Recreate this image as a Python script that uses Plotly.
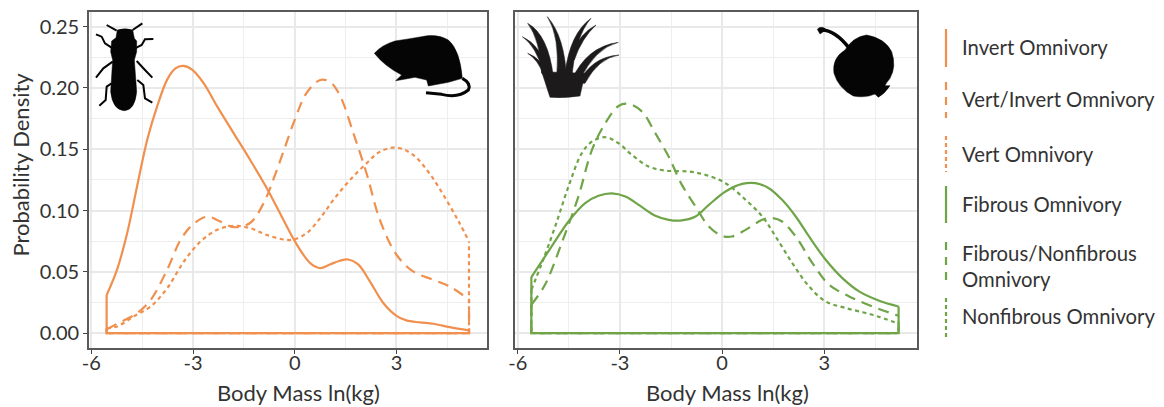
import re
import plotly.graph_objects as go

invert_x = [-5.55,-5.24,-4.94,-4.65,-4.35,-4.06,-3.76,-3.52,-3.29,-3.03,-2.69,-2.29,-1.80,-1.31,-0.82,-0.33,0,0.25,0.5,0.75,1.04,1.33,1.58,1.87,2.22,2.61,3,3.29,3.69,4.08,4.57,5.14]
invert_y = [.031,.052,.082,.120,.158,.185,.207,.216,.218,.215,.204,.185,.163,.141,.118,.092,.075,.064,.056,.053,.056,.059,.060,.056,.042,.0245,.014,.0103,.0087,.0076,.0049,.0022]
vertinv_x = [-5.55,-5.24,-4.65,-4.25,-3.76,-3.37,-3.03,-2.59,-2.2,-1.8,-1.31,-.92,-.53,0,.35,.75,1.04,1.33,1.73,2.12,2.51,3,3.49,4.08,4.57,5.14]
vertinv_y = [.003,.0076,.0163,.027,.052,.076,.088,.095,.091,.0864,.090,.106,.133,.174,.196,.2065,.205,.194,.163,.130,.0924,.0639,.0503,.0435,.038,.0272]
vert_x = [-5.55,-5.24,-4.75,-4.25,-3.76,-3.27,-2.78,-2.29,-1.8,-1.31,-.82,-.24,0,.35,.75,1.14,1.63,2.12,2.51,3,3.49,3.98,4.47,4.86,5.14]
vert_y = [.004,.0054,.0136,.0217,.0367,.0584,.0747,.0842,.0875,.0856,.080,.076,.0766,.0815,.0938,.1087,.125,.1386,.148,.1514,.1454,.130,.1087,.0897,.0747]
fibrous_x = [-5.6,-5.1,-4.51,-4.02,-3.63,-3.24,-2.84,-2.45,-1.96,-1.57,-1.23,-.78,-.39,.1,.59,.98,1.37,1.76,2.16,2.55,3.04,3.53,4.02,4.61,5.18]
fibrous_y = [.0457,.0666,.091,.106,.112,.114,.1114,.1046,.0957,.0924,.0918,.0951,.1046,.1155,.1217,.1223,.1182,.1087,.0951,.0788,.0598,.0448,.034,.0264,.0217]
fibnon_x = [-5.6,-5.2,-4.71,-4.22,-3.82,-3.43,-3.04,-2.75,-2.35,-1.96,-1.57,-1.18,-.78,-.39,0,.29,.69,1.18,1.47,1.76,2.16,2.65,3.14,3.73,4.41,5.18]
fibnon_y = [.0231,.0394,.0734,.1114,.1495,.1712,.1853,.187,.1807,.163,.144,.1209,.1033,.087,.0793,.0788,.0842,.0924,.0938,.091,.0788,.0571,.0394,.0299,.0217,.0141]
nonfib_x = [-5.6,-5.29,-4.9,-4.51,-4.12,-3.82,-3.43,-3.04,-2.65,-2.16,-1.67,-.98,-.49,.1,.69,1.18,1.57,2.06,2.55,3.04,3.63,4.41,5.18]
nonfib_y = [.0353,.0571,.087,.1196,.1467,.1563,.1598,.1549,.1454,.1359,.1326,.1318,.1291,.1223,.1087,.0951,.0788,.0571,.038,.0258,.0204,.0149,.0076]

x_ticks = [-6, -3, 0, 3]
x_tick_text = ["-6", "-3", "0", "3"]
y_ticks = [0, 0.05, 0.10, 0.15, 0.20, 0.25]
y_tick_text = ["0.00", "0.05", "0.10", "0.15", "0.20", "0.25"]
legend_labels = ["Invert Omnivory", "Vert/Invert Omnivory", "Vert Omnivory", "Fibrous Omnivory",
                 "Fibrous/Nonfibrous<br>Omnivory", "Nonfibrous Omnivory"]

W, H = 1164, 407
ORANGE, GREEN = "#F0904F", "#6FA548"
SOLID, DASH, DOT = "solid", "11px,7px", "4px,3.5px"
FONT = "Lato"
TXT = "#333333"

fig = go.Figure()
series = [
    (invert_x, invert_y, ORANGE, SOLID, "x", "y", legend_labels[0]),
    (vertinv_x, vertinv_y, ORANGE, DASH, "x", "y", legend_labels[1]),
    (vert_x, vert_y, ORANGE, DOT, "x", "y", legend_labels[2]),
    (fibrous_x, fibrous_y, GREEN, SOLID, "x2", "y2", legend_labels[3]),
    (fibnon_x, fibnon_y, GREEN, DASH, "x2", "y2", legend_labels[4]),
    (nonfib_x, nonfib_y, GREEN, DOT, "x2", "y2", legend_labels[5]),
]
for xs, ys, col, dash, xa, ya, name in series:
    fig.add_trace(go.Scatter(x=xs, y=ys, mode="lines", xaxis=xa, yaxis=ya, name=name, showlegend=False,
                             line=dict(color=col, width=2.2, dash=dash, shape="spline", smoothing=1.0)))
    fig.add_trace(go.Scatter(x=[xs[0], xs[0], xs[-1], xs[-1]], y=[ys[0], 0, 0, ys[-1]], mode="lines",
                             xaxis=xa, yaxis=ya, showlegend=False, hoverinfo="skip",
                             line=dict(color=col, width=2.2, dash=dash if dash != SOLID else None)))

def axis_common():
    return dict(automargin=False, showline=True, linecolor="#5a5a5a", linewidth=1.6, mirror=True, showgrid=True,
                gridcolor="#E9E9E9", gridwidth=2, zeroline=False, ticks="outside", ticklen=4,
                tickcolor="#444444", tickwidth=1.3, tickfont=dict(family=FONT, size=20, color=TXT),
                minor=dict(showgrid=True, gridcolor="#EEEEEE", gridwidth=1.3))

xa1 = axis_common(); xa2 = axis_common()
ya1 = axis_common(); ya2 = axis_common()
for xa, dom, rng in ((xa1, (89, 487), [-6.07, 5.67]), (xa2, (515, 917), [-6.08, 5.72])):
    xa.update(domain=[dom[0] / W, dom[1] / W], range=rng, tickvals=x_ticks, ticktext=x_tick_text,
              ticklabelstandoff=-8)
    xa["minor"].update(tickvals=[-4.5, -1.5, 1.5, 4.5], ticks="")
for ya in (ya1, ya2):
    ya.update(domain=[(H - 348) / H, (H - 12) / H], range=[-0.0122, 0.262], tickvals=y_ticks)
    ya["minor"].update(tickvals=[.025, .075, .125, .175, .225], ticks="")
ya1.update(ticktext=y_tick_text)
ya2.update(ticktext=[""] * len(y_ticks), ticks="", anchor="x2")
xa2.update(anchor="y2")

def sil(d, ox, oy):
    out, is_x = [], True
    for t in re.findall(r"[A-Za-z]|-?[\d.]+", d):
        if t.isalpha():
            out.append(t)
        elif is_x:
            out.append(f"{(float(t) / 3 + ox) / W:.5f}")
            is_x = False
        else:
            out.append(f"{1 - (float(t) / 3 + oy) / H:.5f}")
            is_x = True
    return " ".join(out)

shapes = []
def filled(d, ox, oy, col="#050505"):
    shapes.append(dict(type="path", xref="paper", yref="paper", path=sil(d, ox, oy), fillcolor=col,
                       line=dict(color=col, width=0.5), layer="above"))
def stroke(d, ox, oy, w=2):
    shapes.append(dict(type="path", xref="paper", yref="paper", path=sil(d, ox, oy),
                       line=dict(color="#050505", width=w), layer="above"))

# beetle
filled("M82,45 Q105,38 128,45 L133,70 L140,78 L140,110 L133,135 L140,230 Q135,285 103,287 Q68,285 62,230 L68,135 L62,110 L65,78 L78,68 Z", 90, 15)
for leg in ["M80,47 L50,30", "M128,45 L157,25", "M68,100 L45,85 L35,65 L18,58", "M135,100 L155,90 L165,73 L190,72",
            "M68,140 L40,160 L18,188", "M140,138 L165,165 L187,188", "M65,205 L50,215 L47,255 L28,272",
            "M142,195 L160,210 L165,250 L187,263"]:
    stroke(leg, 90, 15)
# rat
filled("M28,85 Q50,60 90,48 Q130,42 170,35 Q215,25 250,45 Q285,75 292,160 L250,172 L190,183 L185,165 L150,157 L105,165 L92,167 L110,150 Q60,125 28,85 Z", 365, 25)
stroke("M292,160 Q320,175 310,195 Q280,220 230,208 L183,203", 365, 25, w=3)
# grass
GRASS = "#1c1a1a"
for blade in ["M105,262 Q85,200 80,185 L210,190 L195,258 Q150,265 105,262 Z",
              "M80,190 Q75,90 38,40 Q100,75 115,200 Z",
              "M85,190 Q65,110 22,80 Q80,105 105,200 Z",
              "M85,195 Q70,150 38,130 Q80,145 100,200 Z",
              "M125,200 Q135,80 97,20 Q150,80 155,210 Z",
              "M150,190 Q165,70 228,25 Q180,80 170,210 Z",
              "M170,130 Q195,70 243,45 Q200,85 178,150 Z",
              "M170,210 Q215,110 310,97 Q240,115 195,210 Z",
              "M190,220 Q230,140 312,135 Q250,145 210,220 Z"]:
    filled(blade, 515, 10, GRASS)
# apple
filled("M105,90 Q130,50 170,45 Q225,55 245,95 Q260,140 240,175 Q228,190 225,197 L240,197 Q225,220 205,232 L195,222 Q165,235 130,228 Q85,205 72,160 Q65,115 105,90 Z", 810, 20)
stroke("M118,85 Q75,30 35,30", 810, 20, w=3.5)
filled("M22,28 Q30,18 45,25 L40,35 L30,42 Z", 810, 20)

# ----- legend keys and labels placed beside the panels
legend_keys = [(29, 67, ORANGE, SOLID), (82, 118, ORANGE, DASH), (136, 172, ORANGE, DOT),
               (186, 223, GREEN, SOLID), (242, 282, GREEN, DASH), (298, 337, GREEN, DOT)]
legend_text_y = [47, 99, 154, 204, 266, 316]
for (y0, y1, col, dash) in legend_keys:
    d = {SOLID: "solid", DASH: "8px,7px", DOT: "4px,3px"}[dash]
    shapes.append(dict(type="line", xref="paper", yref="paper", x0=946 / W, x1=946 / W,
                       y0=1 - y0 / H, y1=1 - y1 / H, line=dict(color=col, width=2.2, dash=d)))
annotations = [dict(text=t, xref="paper", yref="paper", x=960 / W, y=1 - yy / H, xanchor="left", yanchor="middle",
                    align="left", showarrow=False, font=dict(family=FONT, size=20.3, color=TXT))
               for t, yy in zip(legend_labels, legend_text_y)]
# axis titles
for cx in (298, 727):
    annotations.append(dict(text="Body Mass ln(kg)", xref="paper", yref="paper", x=cx / W, y=1 - 392 / H,
                            xanchor="center", yanchor="middle", showarrow=False,
                            font=dict(family=FONT, size=22, color=TXT)))
annotations.append(dict(text="Probability Density", xref="paper", yref="paper", x=20 / W, y=1 - 164.5 / H,
                        xanchor="center", yanchor="middle", textangle=-90, showarrow=False,
                        font=dict(family=FONT, size=22, color=TXT)))

fig.update_layout(width=W, height=H, margin=dict(l=0, r=0, t=0, b=0), autosize=False,
                  paper_bgcolor="white", plot_bgcolor="white", showlegend=False,
                  xaxis=xa1, yaxis=ya1, xaxis2=xa2, yaxis2=ya2, shapes=shapes, annotations=annotations)
fig.write_html("out.html", config={"displayModeBar": False},
               post_script="document.body.style.margin='0';document.documentElement.style.overflow='hidden';")
